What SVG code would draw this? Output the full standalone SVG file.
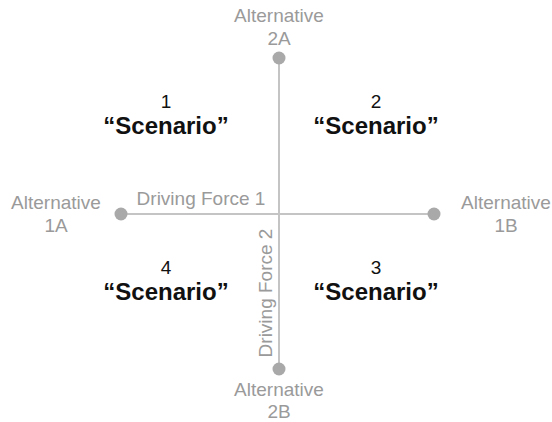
<svg xmlns="http://www.w3.org/2000/svg" width="552" height="422" viewBox="0 0 552 422">
  <style>
    .axis { stroke: #c4c4c4; stroke-width: 2; fill: none; }
    .end { fill: #a9a9a9; }
    .lbl { font-family: "Liberation Sans", Arial, sans-serif; font-size: 19px; fill: #9a9a9a; text-anchor: middle; }
    .num { font-family: "Liberation Sans", Arial, sans-serif; font-size: 19px; fill: #111; text-anchor: middle; }
    .sc { font-family: "Liberation Sans", Arial, sans-serif; font-size: 24px; font-weight: bold; fill: #111; text-anchor: middle; }
  </style>
  <rect width="552" height="422" fill="#ffffff"/>
  <g id="connectors">
    <line class="axis" x1="121" y1="214" x2="434" y2="214"/>
    <line class="axis" x1="279" y1="58" x2="279" y2="369"/>
    <text class="lbl" x="201" y="205">Driving Force 1</text>
    <text class="lbl" transform="translate(272 293) rotate(-90)">Driving Force 2</text>
  </g>
  <g id="alt-2a">
    <circle class="end" cx="279" cy="58" r="6.5"/>
    <text class="lbl" x="279" y="22">Alternative</text>
    <text class="lbl" x="279" y="45">2A</text>
  </g>
  <g id="alt-2b">
    <circle class="end" cx="279" cy="369" r="6.5"/>
    <text class="lbl" x="279" y="396">Alternative</text>
    <text class="lbl" x="279" y="418">2B</text>
  </g>
  <g id="alt-1a">
    <circle class="end" cx="121" cy="214" r="6.5"/>
    <text class="lbl" x="56" y="209">Alternative</text>
    <text class="lbl" x="56" y="232">1A</text>
  </g>
  <g id="alt-1b">
    <circle class="end" cx="434" cy="214" r="6.5"/>
    <text class="lbl" x="506" y="209">Alternative</text>
    <text class="lbl" x="506" y="232">1B</text>
  </g>
  <g id="scenario-1">
    <text class="num" x="166" y="108">1</text>
    <text class="sc" x="166" y="134">“Scenario”</text>
  </g>
  <g id="scenario-2">
    <text class="num" x="376" y="108">2</text>
    <text class="sc" x="376" y="134">“Scenario”</text>
  </g>
  <g id="scenario-4">
    <text class="num" x="166" y="274">4</text>
    <text class="sc" x="166" y="300">“Scenario”</text>
  </g>
  <g id="scenario-3">
    <text class="num" x="376" y="274">3</text>
    <text class="sc" x="376" y="300">“Scenario”</text>
  </g>
</svg>
